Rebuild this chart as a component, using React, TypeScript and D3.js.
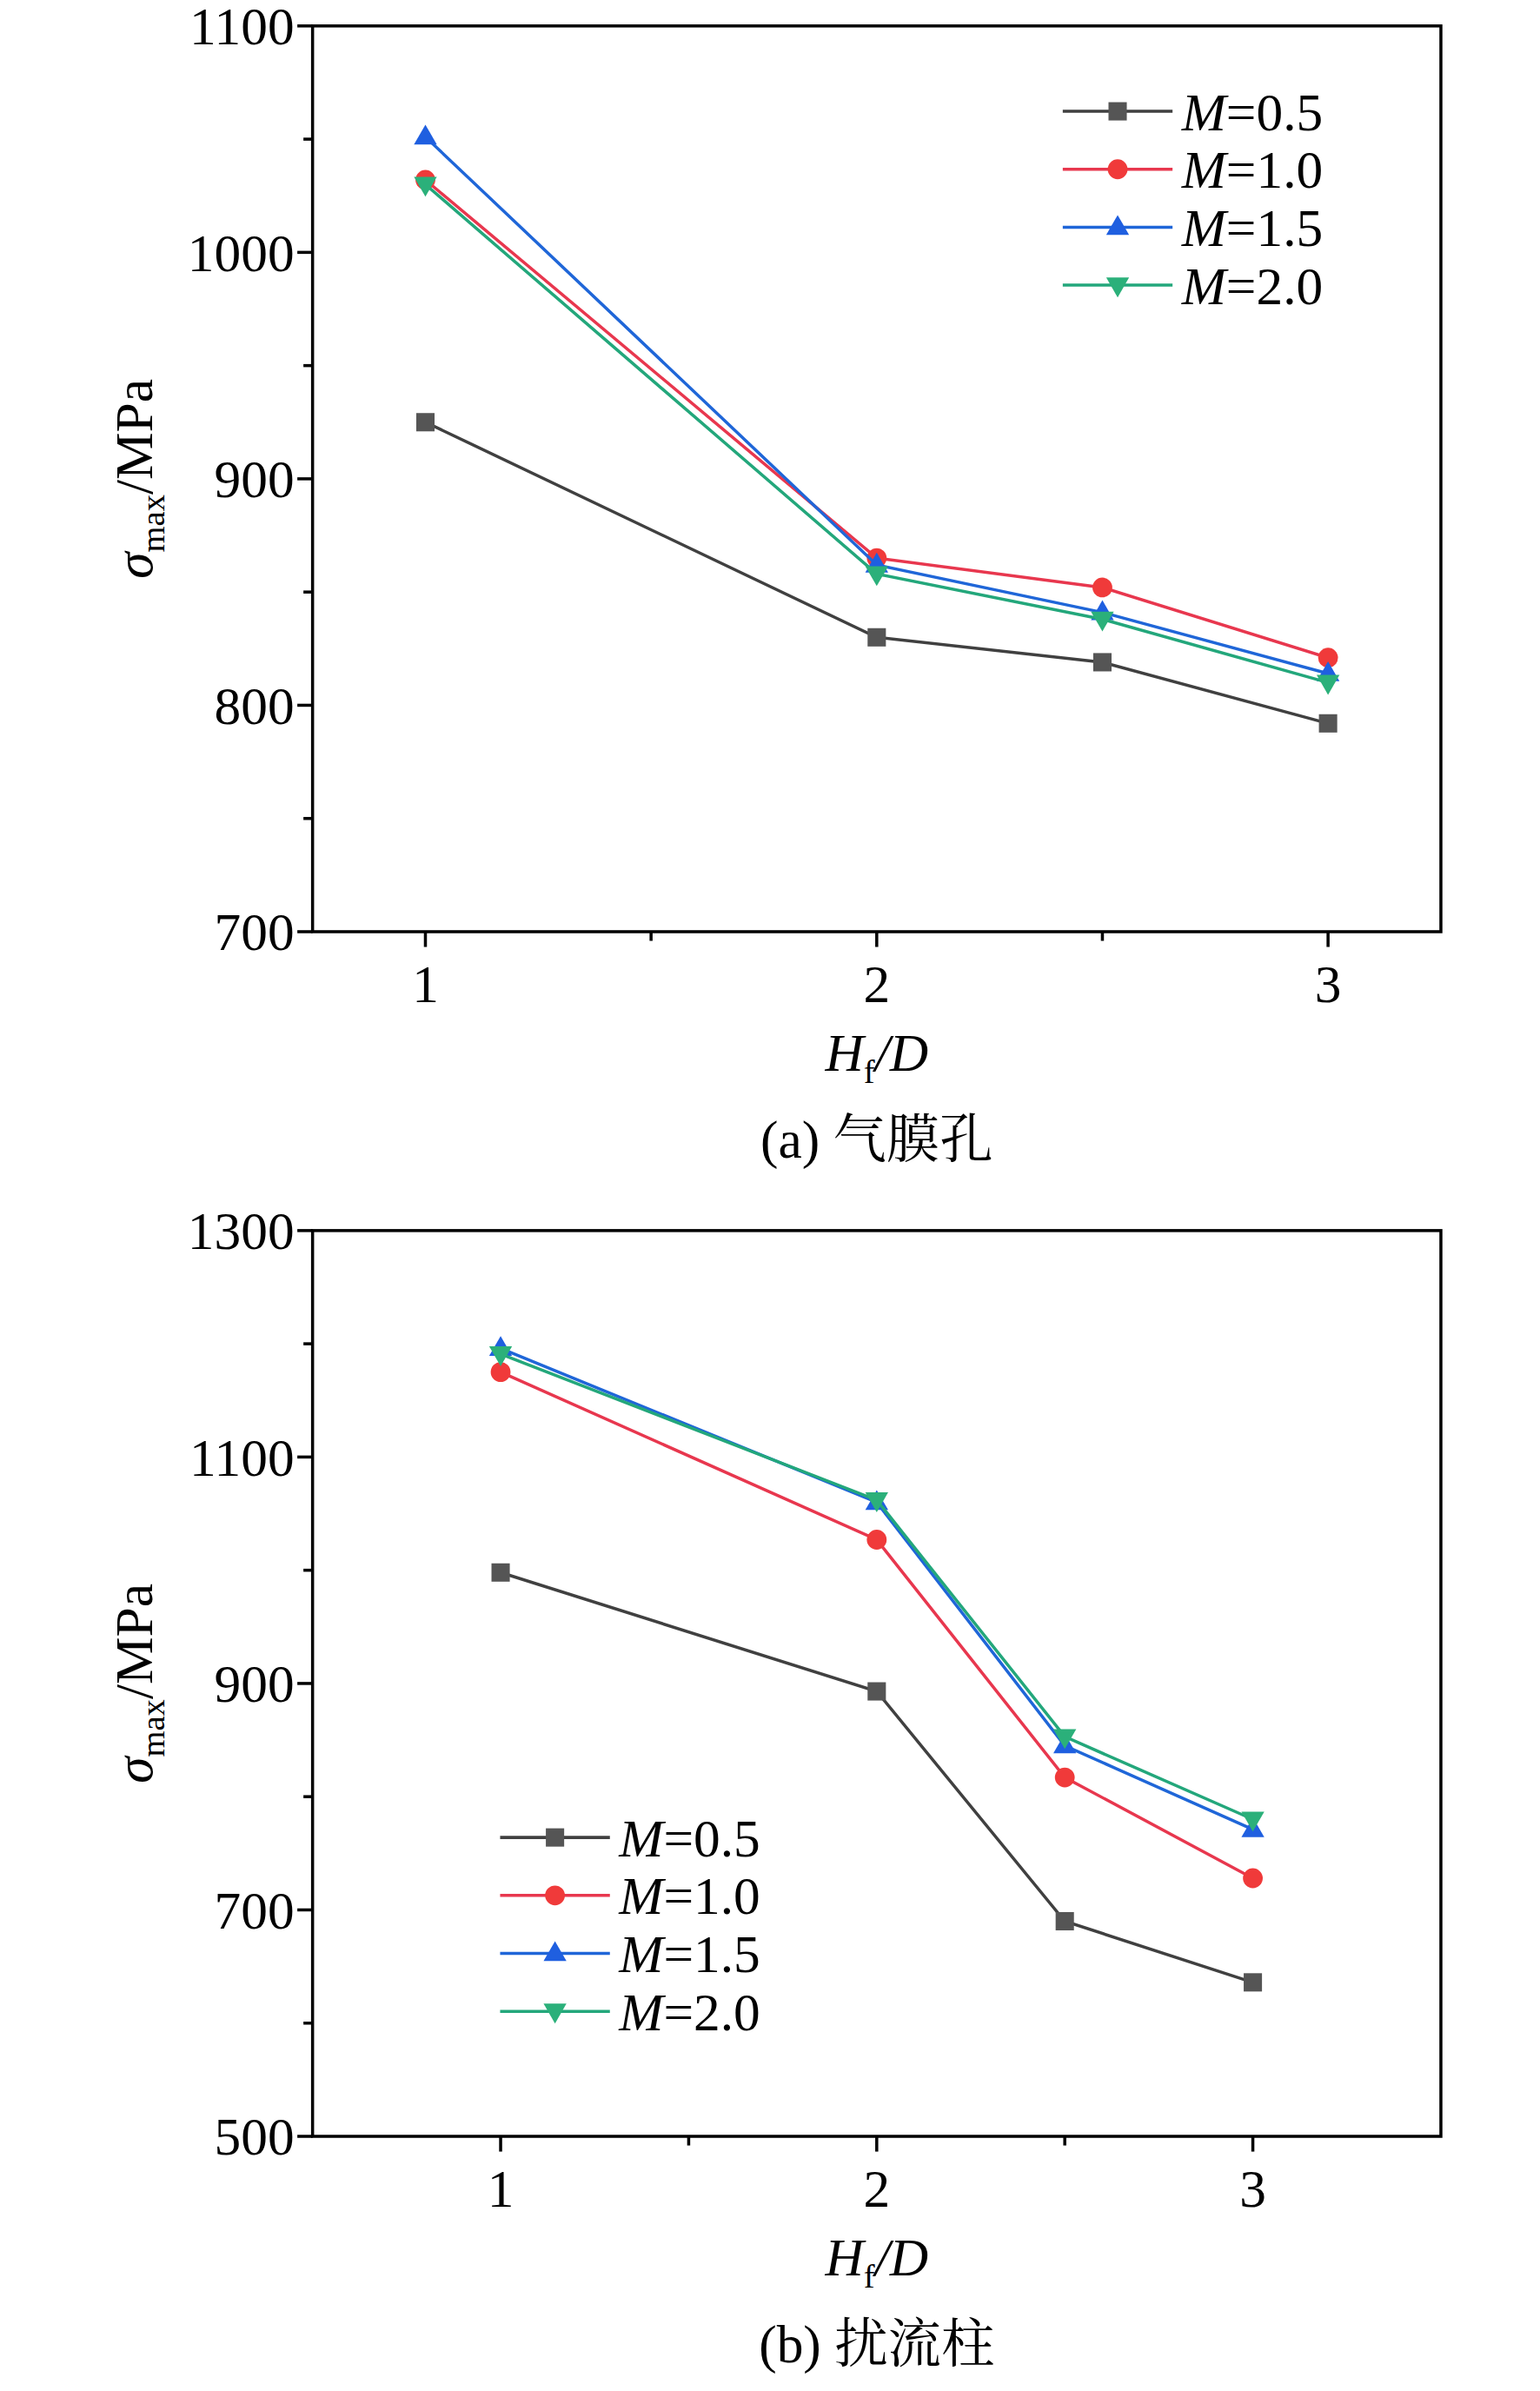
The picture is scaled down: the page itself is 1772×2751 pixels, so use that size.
import * as d3 from "d3";

const seriesNames = ["0.5", "1.0", "1.5", "2.0"];
const colors = ["#404040", "#e8374e", "#1f66d8", "#23a77b"];
const markerFill = ["#555555", "#f03a3a", "#1f5fe0", "#2bb07a"];
const markers = ["square", "circle", "up", "down"];

const xA = [1, 2, 2.5, 3];
const valuesA = [
  [925, 830, 819, 792],
  [1032, 865, 852, 821],
  [1051, 862, 841, 814],
  [1030, 858, 838, 810],
];
const xB = [1, 2, 2.5, 3];
const valuesB = [
  [998, 893, 690, 636],
  [1175, 1027, 817, 728],
  [1196, 1060, 845, 771],
  [1191, 1062, 853, 780],
];

const serif = "'Liberation Serif', 'Times New Roman', serif";
const cjk = "'Noto Serif CJK SC', 'Noto Sans CJK SC', serif";

function Marker({ type, x, y, fill }: { type: string; x: number; y: number; fill: string }) {
  const r = 6.5;
  if (type === "square") return <rect x={x - 6} y={y - 6} width={12} height={12} fill={fill} />;
  if (type === "circle") return <circle cx={x} cy={y} r={r} fill={fill} />;
  if (type === "up")
    return <path d={`M${x},${y - 8}L${x + 7.5},${y + 5}L${x - 7.5},${y + 5}Z`} fill={fill} />;
  return <path d={`M${x},${y + 8}L${x + 7.5},${y - 5}L${x - 7.5},${y - 5}Z`} fill={fill} />;
}

function Panel(props: {
  top: number;
  xDomain: [number, number];
  yDomain: [number, number];
  yTicks: number[];
  yMinor: number[];
  xs: number[];
  values: number[][];
  legend: [number, number];
  caption: string;
}) {
  const L = 205, R = 945, T = props.top, B = props.top + 594;
  const x = d3.scaleLinear().domain(props.xDomain).range([L, R]);
  const y = d3.scaleLinear().domain(props.yDomain).range([B, T]);
  const line = d3.line<number>().x((_, i) => x(props.xs[i])).y(d => y(d));
  const fs = 35;
  return (
    <g>
      <rect x={L} y={T} width={R - L} height={B - T} fill="none" stroke="#000" strokeWidth={2} />
      {props.yTicks.map(t => (
        <g key={t}>
          <line x1={L} x2={L - 10} y1={y(t)} y2={y(t)} stroke="#000" strokeWidth={2} />
          <text x={L - 12} y={y(t)} dy="0.35em" textAnchor="end" fontSize={fs} fontFamily={serif}>{t}</text>
        </g>
      ))}
      {props.yMinor.map(t => (
        <line key={t} x1={L} x2={L - 6} y1={y(t)} y2={y(t)} stroke="#000" strokeWidth={2} />
      ))}
      {[1, 2, 3].map(t => (
        <g key={t}>
          <line x1={x(t)} x2={x(t)} y1={B} y2={B + 10} stroke="#000" strokeWidth={2} />
          <text x={x(t)} y={B + 46} textAnchor="middle" fontSize={fs} fontFamily={serif}>{t}</text>
        </g>
      ))}
      {[1.5, 2.5].map(t => (
        <line key={t} x1={x(t)} x2={x(t)} y1={B} y2={B + 6} stroke="#000" strokeWidth={2} />
      ))}
      <text x={575} y={B + 91} textAnchor="middle" fontSize={fs} fontFamily={serif} fontStyle="italic">
        H<tspan fontSize={22} dy={8} fontStyle="normal">f</tspan><tspan dy={-8}>/D</tspan>
      </text>
      <text x={575} y={B + 148} textAnchor="middle" fontSize={fs} fontFamily={serif}>
        {props.caption.slice(0, 4)}<tspan fontFamily={cjk}>{props.caption.slice(4)}</tspan>
      </text>
      <text transform={`translate(100,${(T + B) / 2}) rotate(-90)`} textAnchor="middle" fontSize={fs} fontFamily={serif}>
        <tspan fontStyle="italic">σ</tspan><tspan fontSize={22} dy={8}>max</tspan><tspan dy={-8}>/MPa</tspan>
      </text>
      {props.values.map((vals, s) => (
        <g key={s}>
          <path d={line(vals) || ""} fill="none" stroke={colors[s]} strokeWidth={2} />
          {vals.map((v, i) => (
            <Marker key={i} type={markers[s]} x={x(props.xs[i])} y={y(v)} fill={markerFill[s]} />
          ))}
        </g>
      ))}
      {seriesNames.map((n, s) => {
        const ly = props.legend[1] + s * 38;
        const lx = props.legend[0];
        return (
          <g key={n}>
            <line x1={lx} x2={lx + 72} y1={ly} y2={ly} stroke={colors[s]} strokeWidth={2} />
            <Marker type={markers[s]} x={lx + 36} y={ly} fill={markerFill[s]} />
            <text x={lx + 78} y={ly} dy="0.35em" fontSize={fs} fontFamily={serif}>
              <tspan fontStyle="italic">M</tspan>={n}
            </text>
          </g>
        );
      })}
    </g>
  );
}

export default function App() {
  return (
    <div style={{ position: "absolute", left: 0, top: 0, background: "#fff" }}>
      <svg width={1772} height={2751} viewBox="0 0 1010 1568" style={{ display: "block" }}>
        <rect width={1010} height={1568} fill="#fff" />
        <Panel
          top={17}
          xDomain={[0.75, 3.25]}
          yDomain={[700, 1100]}
          yTicks={[700, 800, 900, 1000, 1100]}
          yMinor={[750, 850, 950, 1050]}
          xs={xA}
          values={valuesA}
          legend={[697, 73]}
          caption="(a) 气膜孔"
        />
        <Panel
          top={807}
          xDomain={[0.5, 3.5]}
          yDomain={[500, 1300]}
          yTicks={[500, 700, 900, 1100, 1300]}
          yMinor={[600, 800, 1000, 1200]}
          xs={xB}
          values={valuesB}
          legend={[328, 1205]}
          caption="(b) 扰流柱"
        />
      </svg>
    </div>
  );
}
